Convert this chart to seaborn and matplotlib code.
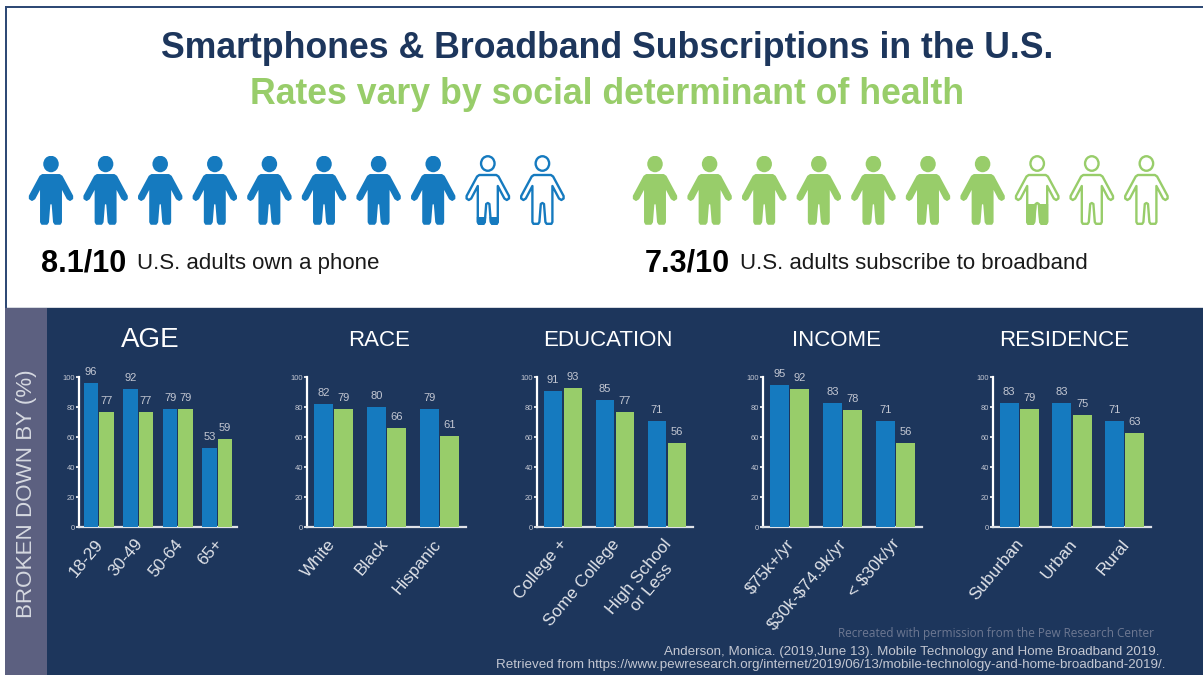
import matplotlib
matplotlib.use("Agg")
import matplotlib.pyplot as plt
import numpy as np
import pandas as pd
import seaborn as sns
from matplotlib.patches import Ellipse, Polygon, Rectangle
from matplotlib.transforms import ScaledTranslation

W, H = 1203, 675
NAVY = "#1d365c"
BLUE = "#157abf"
GREEN = "#98cd6a"
BAND = "#5c6080"
SOFT = "#c3c7d2"
RULE = "#2f4a75"

phone_rate = 8.1
broadband_rate = 7.3

age_groups = ["18-29", "30-49", "50-64", "65+"]
age_phone = [96, 92, 79, 53]
age_broadband = [77, 77, 79, 59]

race_groups = ["White", "Black", "Hispanic"]
race_phone = [82, 80, 79]
race_broadband = [79, 66, 61]

education_groups = ["College +", "Some College", "High School\nor Less"]
education_phone = [91, 85, 71]
education_broadband = [93, 77, 56]

income_groups = ["$75k+/yr", "$30k-$74.9k/yr", "< $30k/yr"]
income_phone = [95, 83, 71]
income_broadband = [92, 78, 56]

residence_groups = ["Suburban", "Urban", "Rural"]
residence_phone = [83, 83, 71]
residence_broadband = [79, 75, 63]

sns.set_theme(style="white")
plt.rcParams["font.family"] = ["Liberation Sans", "DejaVu Sans"]
plt.rcParams["text.parse_math"] = False

fig = plt.figure(figsize=(W / 100, H / 100), dpi=100, facecolor="white")

# Full-figure canvas measured in pixels, origin at the top left
canvas = fig.add_axes([0, 0, 1, 1])
canvas.set_xlim(0, W)
canvas.set_ylim(H, 0)
canvas.axis("off")

canvas.add_patch(Rectangle((5, 308), W - 5, H - 308, fc=NAVY, ec="none"))
canvas.add_patch(Rectangle((5, 308), 42, H - 308, fc=BAND, ec="none"))
canvas.add_patch(Rectangle((5, 6), W - 5, 2.4, fc=RULE, ec="none"))
canvas.add_patch(Rectangle((5, 6), 2.4, 302, fc=RULE, ec="none"))
canvas.add_patch(Rectangle((7.4, 306.8), W - 7.4, 1.2, fc="#d5d9e0", ec="none"))

canvas.text(607, 49, "Smartphones & Broadband Subscriptions in the U.S.", ha="center",
            va="center", fontsize=25.7, fontweight="bold", color=NAVY)
canvas.text(607, 95, "Rates vary by social determinant of health", ha="center",
            va="center", fontsize=25.7, fontweight="bold", color=GREEN)

# Half outline of the pictogram figure, relative to its centre line
half_x = [0, 8.5, 10.7, 21.2, 21.2, 19.0, 16.6, 10.0, 10.0, 9.0, 4.2, 3.0, 1.6, 0]
half_y = [175, 175, 176.5, 196, 198.5, 200, 198.5, 186, 222, 223.8, 223.8, 222, 204, 203]


def person_outline(cx):
    xs = [cx + x for x in half_x] + [cx - x for x in half_x[::-1][1:-1]]
    ys = half_y + half_y[::-1][1:-1]
    return np.column_stack([xs, ys])


def draw_person(cx, fill, color):
    """Draw one figure with its lower `fill` share (0-1) solid."""
    top, bottom = 156, 224
    if fill < 1:
        canvas.add_patch(Polygon(person_outline(cx), closed=True, fc="white", ec=color,
                                 lw=1.7, joinstyle="round"))
        canvas.add_patch(Ellipse((cx, 163.5), 13.5, 14.5, fc="white", ec=color, lw=1.7))
    if fill > 0:
        y_cut = bottom - (bottom - top) * fill
        clip = Rectangle((cx - 30, y_cut), 60, bottom - y_cut + 2, transform=canvas.transData)
        body = Polygon(person_outline(cx), closed=True, fc=color, ec=color, lw=1.4,
                       joinstyle="round")
        head = Ellipse((cx, 164), 15.5, 16.5, fc=color, ec="none")
        for shape in (body, head):
            canvas.add_patch(shape)
            shape.set_clip_path(clip)


def draw_row(first_x, rate, color):
    for i in range(10):
        draw_person(first_x + 54.6 * i, float(np.clip(rate - i, 0, 1)), color)


draw_row(51, phone_rate, BLUE)
draw_row(655, broadband_rate, GREEN)

canvas.text(41, 271, f"{phone_rate}/10", fontsize=22, fontweight="bold", color="black",
            va="baseline")
canvas.text(137, 269, "U.S. adults own a phone", fontsize=16, color="#1a1a1a", va="baseline")
canvas.text(645, 271, f"{broadband_rate}/10", fontsize=22, fontweight="bold", color="black",
            va="baseline")
canvas.text(740, 269, "U.S. adults subscribe to broadband", fontsize=16, color="#1a1a1a",
            va="baseline")

canvas.text(27, 494, "BROKEN DOWN BY (%)", rotation=90, ha="center", va="center",
            fontsize=16.1, color="#d5d8e0")

canvas.text(1154, 633, "Recreated with permission from the Pew Research Center", ha="right",
            va="center", fontsize=8.5, color="#6d7892", family="Open Sans")
canvas.text(1159, 652, "Anderson, Monica. (2019,June 13). Mobile Technology and Home Broadband 2019.",
            ha="right", va="center", fontsize=9.65, color=SOFT)
canvas.text(1166, 665,
            "Retrieved from https://www.pewresearch.org/internet/2019/06/13/mobile-technology-and-home-broadband-2019/.",
            ha="right", va="center", fontsize=9.6, color=SOFT)


def draw_panel(title, title_size, title_x, left, right, groups, phone, broadband, label_shift=-4):
    """One grouped bar panel; left/right are the axis ends in pixels."""
    top_px, base_px = 377, 527
    ax = fig.add_axes([left / W, 1 - base_px / H, (right - left) / W, (base_px - top_px) / H])
    ax.patch.set_alpha(0)
    frame = pd.DataFrame({
        "group": groups * 2,
        "share": phone + broadband,
        "measure": ["phone"] * len(groups) + ["broadband"] * len(groups),
    })
    sns.barplot(data=frame, x="group", y="share", hue="measure", ax=ax, width=0.77, gap=0.06,
                palette={"phone": BLUE, "broadband": GREEN}, legend=False, saturation=1,
                linewidth=0)
    for bar in ax.patches:
        bar.set_zorder(3)
    ax.set_xlim(-0.5, len(groups) - 0.5)
    ax.set_ylim(0, 100)
    ax.set_xlabel("")
    ax.set_ylabel("")
    ax.set_yticks(range(0, 101, 20))
    ax.tick_params(axis="y", left=True, length=2.2, width=1.2, color="white", pad=0.6,
                   labelsize=5.4, labelcolor=SOFT)
    ax.tick_params(axis="x", bottom=False, pad=0)
    ax.set_xticks(range(len(groups)))
    ax.set_xticklabels(groups, rotation=50, ha="right", rotation_mode="anchor", fontsize=12.3,
                       color="#dfe2e8", linespacing=1.15, ma="center")
    shift = ScaledTranslation(label_shift / 100, -1 / 100, fig.dpi_scale_trans)
    for label in ax.get_xticklabels():
        label.set_transform(label.get_transform() + shift)
    for side in ("top", "right"):
        ax.spines[side].set_visible(False)
    ax.spines["left"].set_color("white")
    ax.spines["left"].set_linewidth(1.6)
    ax.spines["bottom"].set_color("#dfe2e8")
    ax.spines["bottom"].set_linewidth(1.6)
    for container in ax.containers:
        ax.bar_label(container, padding=4, fontsize=8, color=SOFT)
    canvas.text(title_x, 340, title, ha="center", va="center", fontsize=title_size, color="white")


draw_panel("AGE", 20, 150, 79, 237, age_groups, age_phone, age_broadband)
draw_panel("RACE", 16, 379, 307, 466, race_groups, race_phone, race_broadband, label_shift=-7)
draw_panel("EDUCATION", 16, 608, 537, 693, education_groups, education_phone, education_broadband)
draw_panel("INCOME", 16, 836, 763, 922, income_groups, income_phone, income_broadband)
draw_panel("RESIDENCE", 16, 1064, 993, 1151, residence_groups, residence_phone, residence_broadband)

fig.savefig("out.png", dpi=100, facecolor="white")
